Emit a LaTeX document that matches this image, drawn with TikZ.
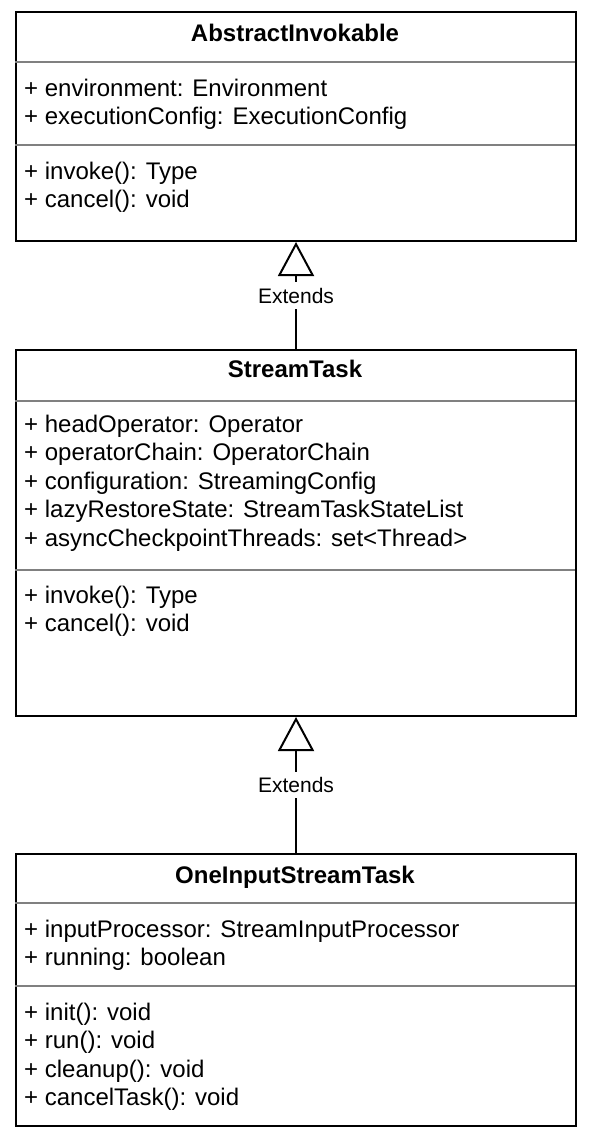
\documentclass[tikz,border=0pt]{standalone}
\usepackage{fontspec}
\setmainfont{Liberation Sans}
\usetikzlibrary{arrows.meta}
\begin{document}
\begin{tikzpicture}[x=1pt, y=-1pt,
  classbox/.style={draw, line width=2pt, anchor=north west, inner sep=0pt, minimum width=560pt},
  classname/.style={font=\fontsize{24}{29}\selectfont\bfseries, anchor=base},
  members/.style={font=\fontsize{24}{28.5}\selectfont, anchor=base west, align=left, inner sep=0pt},
  divider/.style={draw=gray, line width=1.3pt},
  extends/.style={-{Triangle[open, length=34pt, width=36pt, line width=2pt]}, line width=2pt},
  extlabel/.style={fill=white, font=\fontsize{21}{25}\selectfont, inner xsep=2pt, inner ysep=5.5pt}]
\useasboundingbox (0,0) rectangle (592,1138);

% AbstractInvokable (member nodes sit on the baseline of their last line)
\node[classbox, minimum height=229pt] (ai) at (15,11) {};
\node[classname] (ainame) at (295,41) {AbstractInvokable};
\draw[divider] (15,62) -- (575,62);
\node[members] (aiattr) at (24,124.5) {+ environment: Environment\\+ executionConfig: ExecutionConfig};
\draw[divider] (15,145) -- (575,145);
\node[members] (aiops) at (24,207.5) {+ invoke(): Type\\+ cancel(): void};

% StreamTask
\node[classbox, minimum height=366pt] (st) at (15,349) {};
\node[classname] (stname) at (295,377) {StreamTask};
\draw[divider] (15,401) -- (575,401);
\node[members] (stattr) at (24,546) {+ headOperator: Operator\\+ operatorChain: OperatorChain\\+ configuration: StreamingConfig\\+ lazyRestoreState: StreamTaskStateList\\+ asyncCheckpointThreads: set<Thread>};
\draw[divider] (15,570) -- (575,570);
\node[members] (stops) at (24,631.5) {+ invoke(): Type\\+ cancel(): void};

% OneInputStreamTask
\node[classbox, minimum height=272pt] (oi) at (15,853) {};
\node[classname] (oiname) at (295,883) {OneInputStreamTask};
\draw[divider] (15,903) -- (575,903);
\node[members] (oiattr) at (24,965.5) {+ inputProcessor: StreamInputProcessor\\+ running: boolean};
\draw[divider] (15,986) -- (575,986);
\node[members] (oiops) at (24,1105.5) {+ init(): void\\+ run(): void\\+ cleanup(): void\\+ cancelTask(): void};

\draw[extends] (st) -- (ai) node[extlabel, pos=0.5] (ext1) {Extends};
\draw[extends] (oi) -- (st) node[extlabel, pos=0.5] (ext2) {Extends};
\end{tikzpicture}
\end{document}
